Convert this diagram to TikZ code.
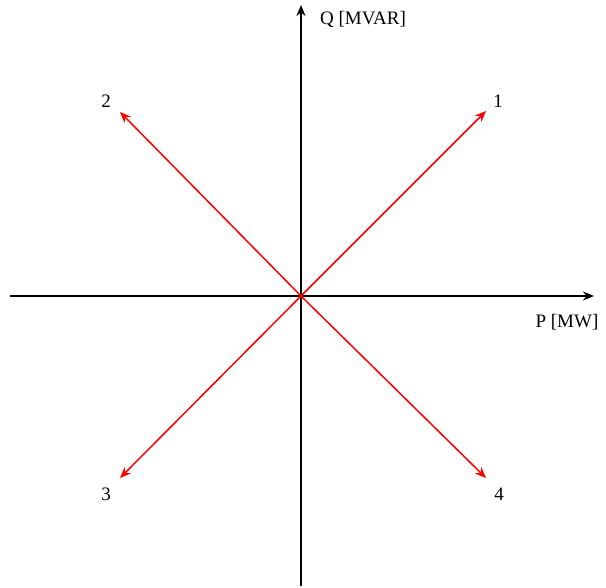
\documentclass[tikz,border=0pt]{standalone}
\usepackage{fontspec}
\setmainfont{Liberation Serif}
\usetikzlibrary{arrows.meta}
\begin{document}
\begin{tikzpicture}[x=1pt,y=-1pt,
  axis/.style={draw=black,line width=1.8pt,-{Stealth[length=11pt,width=9pt]}},
  vec/.style={draw=red,line width=1.5pt,-{Stealth[length=11pt,width=9pt]}},
  lbl/.style={font=\fontsize{19}{22}\selectfont,inner sep=0pt}]
\useasboundingbox (0,0) rectangle (606,588);
\coordinate (O) at (301,296);
\coordinate (xl) at (10,296);
\coordinate (xr) at (594,296);
\coordinate (yb) at (301,586);
\coordinate (yt) at (301,5);
\coordinate (v1) at (486,111);
\coordinate (v2) at (120,112);
\coordinate (v3) at (120,478);
\coordinate (v4) at (486,478);
\draw[axis] (xl) -- (xr);
\draw[axis] (yb) -- (yt);
\draw[vec] (O) -- (v1);
\draw[vec] (O) -- (v2);
\draw[vec] (O) -- (v3);
\draw[vec] (O) -- (v4);
\node[lbl] (l1) at (498,101) {1};
\node[lbl] (l2) at (106,101) {2};
\node[lbl] (l3) at (106,494) {3};
\node[lbl] (l4) at (499,494) {4};
\node[lbl,anchor=west] (q) at (320,19) {Q [MVAR]};
\node[lbl] (p) at (567,322) {P [MW]};
\end{tikzpicture}
\end{document}
